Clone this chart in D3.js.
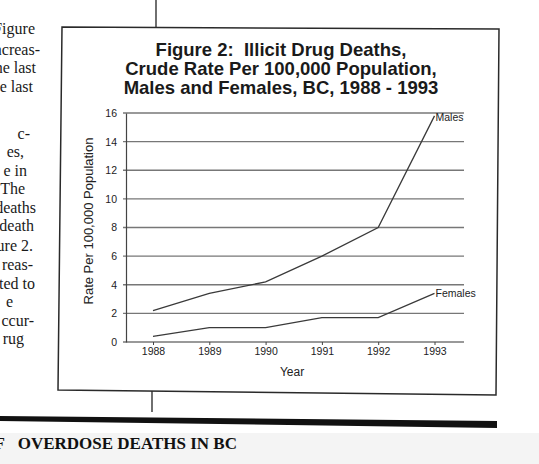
<!DOCTYPE html>
<meta charset="utf-8">
<style>
  body { margin: 0; background: #fff; }
  svg { display: block; }
  .side { font-family: "Liberation Serif", "Times New Roman", serif; font-size: 16px; fill: #1a1a1a; }
  .ttl { font-family: "Liberation Sans", Arial, sans-serif; font-size: 18.5px; font-weight: bold; fill: #1a1a1a; }
  .axis text { font-family: "Liberation Sans", Arial, sans-serif; font-size: 10.5px; fill: #222; }
  .lbl { font-family: "Liberation Sans", Arial, sans-serif; font-size: 13px; fill: #222; }
  .tag { font-family: "Liberation Sans", Arial, sans-serif; font-size: 10.5px; fill: #222; }
  .head { font-family: "Liberation Serif", "Times New Roman", serif; font-size: 17px; font-weight: bold; fill: #111; }
  .grid { stroke: #777; stroke-width: 1.3px; }
  .series { fill: none; stroke: #3a3a3a; stroke-width: 1.3px; }
</style>
<body>
<svg id="chart" width="539" height="464"></svg>
<script src="https://d3js.org/d3.v7.min.js"></script>
<script>
  // chart values
  var years   = [1988, 1989, 1990, 1991, 1992, 1993];
  var males   = [2.2, 3.4, 4.2, 6.0, 8.0, 15.8];
  var females = [0.4, 1.0, 1.0, 1.7, 1.7, 3.4];
  var yTicks  = [0, 2, 4, 6, 8, 10, 12, 14, 16];
  var titleLines = ["Figure 2:\u00a0 Illicit Drug Deaths,",
                    "Crude Rate Per 100,000 Population,",
                    "Males and Females, BC, 1988 - 1993"];
  // cut-off column of body text to the left of the figure
  var sideText = ["Figure", "ncreas-", "he last", "e last", "", "",
                  "c-", "es,", "e in", "The", "deaths", "death", "ure 2.",
                  "reas-", "ted to", "e", "ccur-", "rug"];
  var sideRight = [35, 40, 36, 33, 0, 0, 30, 24, 27, 25, 36, 34, 33, 33, 35, 13, 34, 24];
  var sideBase  = [34, 54.5, 73, 91.5, 0, 0, 138.7, 157, 175.7, 194, 212.8, 231, 251, 270, 288.5, 307, 325.5, 344];

  var svg = d3.select('#chart');

  // page furniture
  svg.append('rect').attr('x', 0).attr('y', 433).attr('width', 539).attr('height', 31).attr('fill', '#f4f4f4');
  svg.append('line').attr('x1', 156).attr('x2', 156).attr('y1', 0).attr('y2', 27)
    .attr('stroke', '#222').attr('stroke-width', 1.3);
  svg.append('line').attr('x1', 152).attr('x2', 152).attr('y1', 391).attr('y2', 412)
    .attr('stroke', '#222').attr('stroke-width', 1.3);
  svg.append('polygon').attr('points', '0,416 497,421 497,428 0,421').attr('fill', '#111');
  // section heading, its first word cut by the scan
  svg.append('text').attr('class', 'head').attr('x', 5).attr('y', 449).attr('text-anchor', 'end').text('OF');
  svg.append('text').attr('class', 'head').attr('x', 237).attr('y', 449).attr('text-anchor', 'end')
    .text('OVERDOSE DEATHS IN BC');

  svg.selectAll('.side').data(sideText).enter().append('text')
    .attr('class', 'side')
    .attr('x', function(d, i){ return sideRight[i]; })
    .attr('y', function(d, i){ return sideBase[i]; })
    .attr('text-anchor', 'end')
    .text(function(d){ return d; });

  // figure box (the scan is a little skewed)
  svg.append('polygon').attr('points', '62,27 499,29 496,395 58,390')
    .attr('fill', 'none').attr('stroke', '#2a2a2a').attr('stroke-width', 1.5);

  svg.selectAll('.ttl').data(titleLines).enter().append('text')
    .attr('class', 'ttl')
    .attr('x', 281)
    .attr('y', function(d, i){ return 56 + i * 19; })
    .attr('text-anchor', 'middle')
    .text(function(d){ return d; });

  var x = d3.scaleLinear().domain([1988, 1993]).range([153, 434.5]);
  var y = d3.scaleLinear().domain([0, 16]).range([342, 113]);
  var axisX = 126, gridRight = 464;

  // horizontal gridlines with a small stub left of the axis
  svg.selectAll('.grid').data(yTicks).enter().append('line')
    .attr('class', 'grid')
    .attr('x1', axisX - 3).attr('x2', gridRight)
    .attr('y1', function(d){ return y(d); })
    .attr('y2', function(d){ return y(d); });

  svg.append('g')
    .attr('class', 'axis')
    .attr('transform', 'translate(' + axisX + ',0)')
    .call(d3.axisLeft(y).tickValues(yTicks).tickSize(0).tickPadding(9))
    .call(function(g){ g.select('.domain').attr('stroke', '#444').attr('stroke-width', 1.2); });

  svg.append('g')
    .attr('class', 'axis')
    .attr('transform', 'translate(0,' + y(0) + ')')
    .call(d3.axisBottom(x).tickValues(years).tickFormat(d3.format('d')).tickSize(3).tickPadding(3))
    .call(function(g){ g.select('.domain').remove(); g.selectAll('line').attr('stroke', '#444'); });

  svg.append('text').attr('class', 'lbl')
    .attr('x', 292).attr('y', 376).attr('text-anchor', 'middle').style('font-size', '12px').text('Year');
  svg.append('text').attr('class', 'lbl')
    .attr('transform', 'translate(93,221) rotate(-90)')
    .attr('text-anchor', 'middle').text('Rate Per 100,000 Population');

  var line = d3.line()
    .x(function(d, i){ return x(years[i]); })
    .y(function(d){ return y(d); });

  svg.append('path').datum(males).attr('class', 'series').attr('d', line);
  svg.append('path').datum(females).attr('class', 'series').attr('d', line);

  svg.append('text').attr('class', 'tag')
    .attr('x', x(1993) + 1).attr('y', y(males[5]) + 5)
    .text('Males');
  svg.append('text').attr('class', 'tag')
    .attr('x', x(1993) + 1).attr('y', y(females[5]) + 4)
    .text('Females');
</script>
</body>
